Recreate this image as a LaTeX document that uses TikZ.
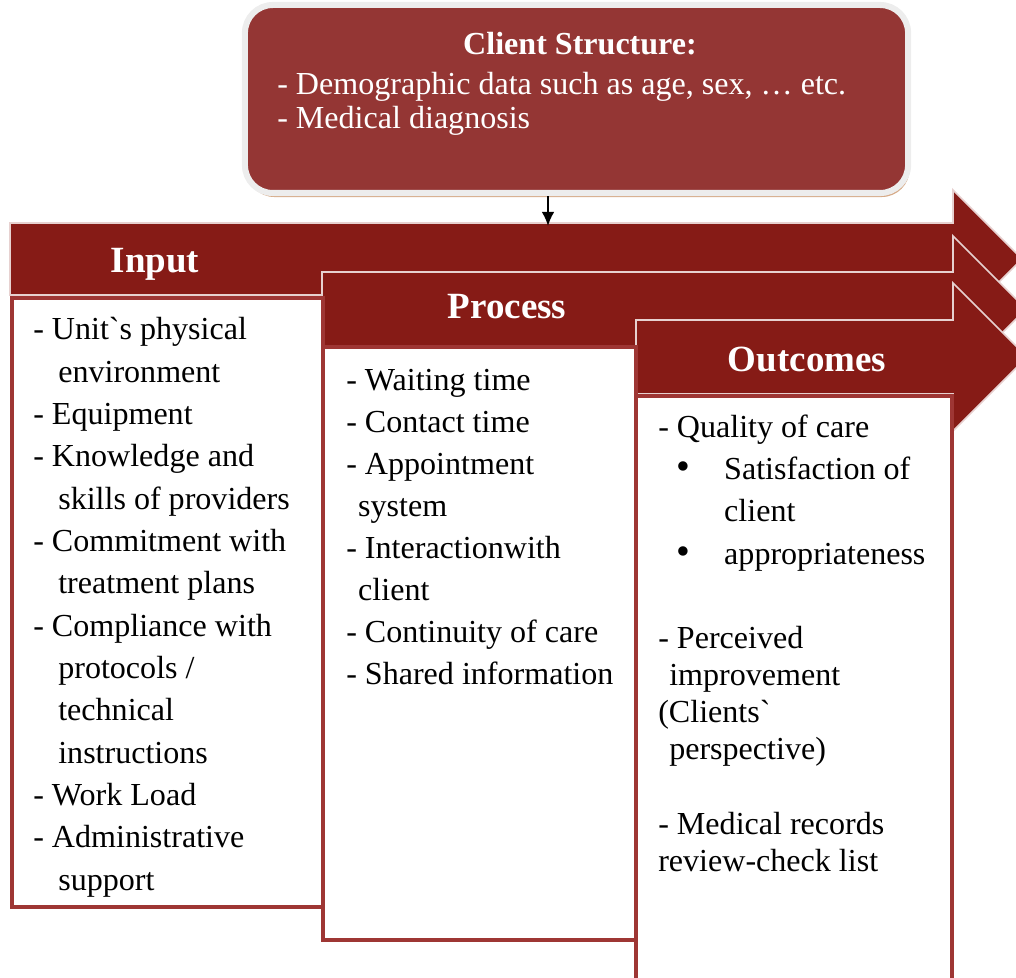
\documentclass[tikz,border=0pt]{standalone}
\usepackage{fontspec}
\setmainfont{Liberation Serif}[Ligatures=TeXOff]
\usetikzlibrary{shapes,arrows,arrows.meta,positioning,calc,shadows}
\definecolor{arrowred}{RGB}{134,27,22}
\definecolor{clientred}{RGB}{148,54,52}
\definecolor{boxedge}{RGB}{158,54,52}
\definecolor{shadowtan}{RGB}{214,170,135}

\begin{document}
\begin{tikzpicture}[x=0.025cm, y=-0.025cm,
    bigarrow/.style={fill=arrowred, draw=white!80!arrowred, line width=1.2pt, line join=miter},
    listbox/.style={fill=white, draw=boxedge, line width=2.6pt},
    head/.style={anchor=base, text=white, font=\fontsize{26.3}{30}\selectfont\bfseries},
    item/.style={anchor=base west, align=left, inner sep=0pt, font=\fontsize{22.8}{30.1}\selectfont}]

  \useasboundingbox (0,0) rectangle (1016,977);
  \clip (0,0) rectangle (1016,977);

  % client structure (list nodes are placed by the baseline of their last line)
  \node[draw=black!7, line width=4.3pt, fill=clientred, rounded corners=0.7cm,
        minimum width=16.575cm, minimum height=4.7cm,
        drop shadow={shadow xshift=0.04cm, shadow yshift=-0.1cm, fill=shadowtan, opacity=1}] (client) at (576.5,99) {};
  \node[anchor=base, text=white, font=\fontsize{22.8}{25.6}\selectfont\bfseries] (cstitle) at (580,55) {Client Structure:};
  \node[item, text=white, font=\fontsize{22.8}{24.4}\selectfont] (cslist) at (277,129)
    {- Demographic data such as age, sex, … etc.\\- Medical diagnosis};

  % the three arrows
  \draw[bigarrow] (10,223) -- (953,223) -- (953,190) -- (1022,259) -- (953,328) -- (953,295) -- (10,295) -- cycle;
  \node[head] (input) at (155,273) {Input};
  \coordinate (intop) at (548,226);
  \draw[-{Latex[length=10pt,width=9pt]}, line width=1.3pt] (client.south -| intop) -- (intop);

  \draw[bigarrow] (322,272) -- (953,272) -- (953,236) -- (1026,309) -- (953,382) -- (953,346) -- (322,346) -- cycle;
  \node[head] (process) at (507,318) {Process};

  \draw[bigarrow] (636,320) -- (953,320) -- (953,283) -- (1027,357) -- (953,431) -- (953,394) -- (636,394) -- cycle;
  \node[head] (outcomes) at (807,371) {Outcomes};

  % boxes
  \draw[listbox] (12,298) rectangle (323,907);
  \draw[listbox] (323,347) rectangle (636,940);
  \draw[listbox] (636,396) rectangle (952,990);

  \node[item] (inputlist) at (33,890)
    {- Unit`s physical\\
     \hspace*{17.8pt}environment\\
     - Equipment\\
     - Knowledge and\\
     \hspace*{17.8pt}skills of providers\\
     - Commitment with\\
     \hspace*{17.8pt}treatment plans\\
     - Compliance with\\
     \hspace*{17.8pt}protocols /\\
     \hspace*{17.8pt}technical\\
     \hspace*{17.8pt}instructions\\
     - Work Load\\
     - Administrative\\
     \hspace*{17.8pt}support};

  \node[item, font=\fontsize{22.8}{29.8}\selectfont] (processlist) at (346,684)
    {- Waiting time\\
     - Contact time\\
     - Appointment\\
     \hspace*{8.5pt}system\\
     - Interactionwith\\
     \hspace*{8.5pt}client\\
     - Continuity of care\\
     - Shared information};

  \node[item, font=\fontsize{22.8}{29.9}\selectfont] (qualitylist) at (658,564)
    {- Quality of care\\
     \makebox[35.6pt]{\fontsize{28}{28}\selectfont\textbullet}\hspace*{11.3pt}Satisfaction of\\
     \hspace*{46.9pt}client\\
     \makebox[35.6pt]{\fontsize{28}{28}\selectfont\textbullet}\hspace*{11.3pt}appropriateness};

  \node[item, font=\fontsize{22.8}{26.3}\selectfont] (perceivedlist) at (658,759)
    {- Perceived\\
     \hspace*{7.8pt}improvement\\
     (Clients`\\
     \hspace*{7.8pt}perspective)};

  \node[item, font=\fontsize{22.8}{26}\selectfont] (recordslist) at (658,871)
    {- Medical records\\
     review-check list};
\end{tikzpicture}
\end{document}
